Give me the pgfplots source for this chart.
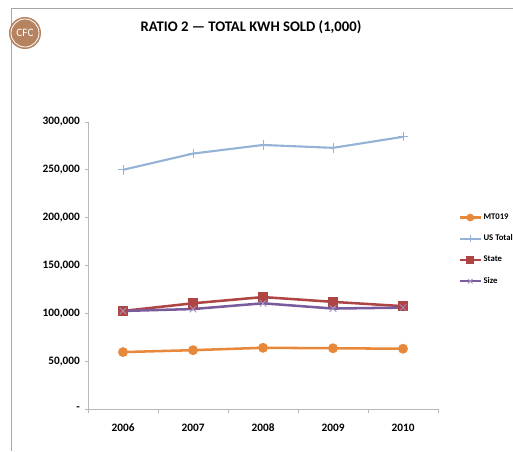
\documentclass[border=0pt]{standalone}
\usepackage{pgfplots}
\pgfplotsset{compat=1.18}
\usepackage{fontspec}
\setmainfont{Carlito}
\definecolor{cMT}{HTML}{E8883A}
\definecolor{cUS}{HTML}{95B3D7}
\definecolor{cST}{HTML}{AE4444}
\definecolor{cSZ}{HTML}{7A5C9C}
\definecolor{cSZm}{HTML}{A592C4}
\definecolor{logo}{HTML}{B5835F}
\definecolor{axgray}{HTML}{B8B8B8}
\definecolor{bordergray}{HTML}{A6A6A6}
\begin{document}
\begin{tikzpicture}[x=0.75pt,y=0.75pt]
\useasboundingbox (0,0) rectangle (513,451);
% frame
\draw[bordergray,line width=0.75pt] (11,0) -- (11,442) -- (513,442);
% logo
\fill[logo] (25,418) circle (16);
\draw[white,line width=0.6pt] (25,418) circle (14);
\node[white,inner sep=0pt,font=\fontsize{8.5}{9}\selectfont] at (25,418) {CFC};
% title
\node[font=\bfseries\fontsize{11}{13}\selectfont] at (251,424) {RATIO 2 --- TOTAL KWH SOLD (1,000)};
\begin{axis}[
  at={(66pt,31.5pt)}, anchor=south west,
  scale only axis, width=262.5pt, height=215.25pt,
  xmin=-0.5, xmax=4.5, ymin=0, ymax=300000,
  axis x line=bottom, axis y line=left,
  axis line style={-,axgray,line width=0.75pt},
  xtick={0,1,2,3,4},
  xticklabels={2006,2007,2008,2009,2010},
  minor xtick={-0.5,0.5,1.5,2.5,3.5,4.5},
  major x tick style={draw=none},
  minor x tick style={axgray,line width=0.75pt},
  minor tick length=3pt,
  ytick={0,50000,100000,150000,200000,250000,300000},
  yticklabels={{-\hspace{11pt}},{50,000},{100,000},{150,000},{200,000},{250,000},{300,000}},
  y tick style={axgray,line width=0.75pt},
  major tick length=2.5pt,
  tick align=outside,
  ticklabel style={font=\bfseries\fontsize{8.5}{10}\selectfont},
  xticklabel style={yshift=-5pt},
  scaled y ticks=false,
  legend style={at={(1.046,0.70)},anchor=north west,draw=none,fill=none,
    font=\bfseries\fontsize{6.5}{7.5}\selectfont,row sep=6pt,
    nodes={inner xsep=1pt},
    /tikz/every odd column/.append style={column sep=0pt}},
  legend cell align=left,
  legend image code/.code={\draw[mark repeat=2,mark phase=2,every mark/.append style={scale=0.7}] plot coordinates {(0pt,0pt) (8pt,0pt) (16pt,0pt)};},
  clip=false,
]
\addplot[cMT,line width=1.9pt,mark=*,mark size=2.7pt,mark options={solid}] coordinates {(0,59500) (1,61500) (2,64000) (3,63500) (4,63000)};
\addlegendentry{MT019}
\addplot[cUS,line width=1.6pt,mark=+,mark size=3.5pt,mark options={line width=0.6pt}] coordinates {(0,250000) (1,267000) (2,276000) (3,273000) (4,284500)};
\addlegendentry{US Total}
\addplot[cST,line width=1.9pt,mark=square*,mark size=3pt] coordinates {(0,102500) (1,110500) (2,117000) (3,112000) (4,107500)};
\addlegendentry{State}
\addplot[cSZ,line width=1.9pt,mark=x,mark size=3.5pt,mark options={cSZm,line width=0.6pt}] coordinates {(0,102500) (1,104500) (2,110500) (3,105000) (4,106000)};
\addlegendentry{Size}
\end{axis}
\end{tikzpicture}
\end{document}
